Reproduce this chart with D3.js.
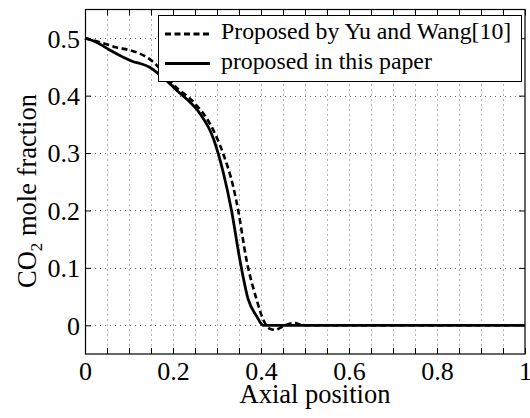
<!DOCTYPE html>
<html>
<head>
<meta charset="utf-8">
<script src="https://cdn.jsdelivr.net/npm/d3@7"></script>
<style>
body { margin: 0; background: #fff; }
svg { display: block; }
svg text { font-family: "Liberation Serif", "Times New Roman", serif; fill: #000; }
</style>
</head>
<body>
<svg id="view" width="530" height="418"></svg>
<script>
// data
var xTicks = [0, 0.2, 0.4, 0.6, 0.8, 1];
var yTicks = [0, 0.1, 0.2, 0.3, 0.4, 0.5];
var xMinor = d3.range(0, 1.0001, 0.05);

var yuX = [0, 0.034, 0.072, 0.102, 0.133, 0.156, 0.175, 0.2, 0.25, 0.284, 0.314, 0.337, 0.348, 0.367, 0.39, 0.405, 0.42, 0.432, 0.445, 0.455, 0.467, 0.477, 0.49, 0.5, 1.0];
var yuY = [0.5, 0.493, 0.484, 0.479, 0.47, 0.458, 0.443, 0.42, 0.386, 0.351, 0.299, 0.241, 0.201, 0.114, 0.045, 0.01, -0.006, -0.008, -0.004, 0, 0.003, 0.004, 0.001, 0, 0];

var paperX = [0, 0.026, 0.057, 0.087, 0.11, 0.125, 0.148, 0.167, 0.19, 0.21, 0.231, 0.261, 0.292, 0.314, 0.333, 0.352, 0.371, 0.39, 0.405, 0.5, 1.0];
var paperY = [0.5, 0.493, 0.479, 0.467, 0.459, 0.456, 0.449, 0.438, 0.423, 0.408, 0.394, 0.369, 0.325, 0.267, 0.2, 0.114, 0.045, 0.016, 0, 0, 0];

var svg = d3.select('svg#view');
var L = 85, R = 525, T = 9.5, B = 354;

var x = d3.scaleLinear().domain([0, 1]).range([L, R]);
var y = d3.scaleLinear().domain([-0.05, 0.55]).range([B, T]);

// dotted grid
var grid = svg.append('g').attr('stroke', '#666').attr('stroke-width', 1).attr('stroke-dasharray', '1,4');
grid.selectAll('line.v').data(xMinor.filter(function(d){ return d > 0.001 && d < 0.999; }))
	.enter().append('line')
	.attr('x1', function(d){ return Math.round(x(d)) + 0.5; })
	.attr('x2', function(d){ return Math.round(x(d)) + 0.5; })
	.attr('y1', T).attr('y2', B);
grid.selectAll('line.h').data(yTicks)
	.enter().append('line')
	.attr('y1', function(d){ return Math.round(y(d)) + 0.5; })
	.attr('y2', function(d){ return Math.round(y(d)) + 0.5; })
	.attr('x1', L).attr('x2', R);

// axes, ticks pointing inward
var gB = svg.append('g').attr('transform', 'translate(0,' + B + ')')
	.call(d3.axisBottom(x).tickValues(xMinor).tickSize(-6).tickFormat(function(d){
		var r = Math.round(d * 100) / 100;
		return xTicks.indexOf(r) >= 0 ? d3.format('')(r) : '';
	}));
var gT = svg.append('g').attr('transform', 'translate(0,' + T + ')')
	.call(d3.axisTop(x).tickValues(xMinor).tickSize(-6).tickFormat(''));
var gL = svg.append('g').attr('transform', 'translate(' + L + ',0)')
	.call(d3.axisLeft(y).tickValues(yTicks).tickSize(-6).tickFormat(d3.format('')).tickPadding(5));
var gR = svg.append('g').attr('transform', 'translate(' + R + ',0)')
	.call(d3.axisRight(y).tickValues(yTicks).tickSize(-6).tickFormat(''));

[gB, gT, gL, gR].forEach(function(g) {
	g.attr('font-family', null).attr('font-size', null);
	g.select('.domain').remove();
	g.selectAll('line').attr('stroke', '#000');
	g.selectAll('text').style('font-size', '26px').attr('fill', '#000');
});
gB.selectAll('text').attr('dy', null).attr('y', 26);
gL.selectAll('text').attr('dy', '0.34em');

svg.append('rect').attr('x', L + 0.5).attr('y', T).attr('width', R - L - 0.5).attr('height', B - T)
	.attr('fill', 'none').attr('stroke', '#000').attr('stroke-width', 1.2);

// curves
var line = d3.line().x(function(d){ return x(d[0]); }).y(function(d){ return y(d[1]); }).curve(d3.curveMonotoneX);
var plot = svg.append('g');
plot.append('path').datum(d3.zip(yuX, yuY)).attr('d', line)
	.attr('fill', 'none').attr('stroke', '#000').attr('stroke-width', 2.6).attr('stroke-dasharray', '6,3.5');
plot.append('path').datum(d3.zip(paperX, paperY)).attr('d', line)
	.attr('fill', 'none').attr('stroke', '#000').attr('stroke-width', 2.8);

// legend
var lg = svg.append('g');
lg.append('rect').attr('x', 158.5).attr('y', 15.5).attr('width', 363).attr('height', 66)
	.attr('fill', '#fff').attr('stroke', '#000').attr('stroke-width', 1);
var entries = [
	{ label: 'Proposed by Yu and Wang[10]', dash: '6,3.5', yy: 34 },
	{ label: 'proposed in this paper', dash: null, yy: 63.5 }
];
entries.forEach(function(e) {
	lg.append('line').attr('x1', 165).attr('x2', 210).attr('y1', e.yy).attr('y2', e.yy)
		.attr('stroke', '#000').attr('stroke-width', 2.8).attr('stroke-dasharray', e.dash);
	lg.append('text').attr('x', 221).attr('y', e.yy + 5).style('font-size', '23.8px').text(e.label);
});

// axis titles
svg.append('text').attr('x', 315).attr('y', 403).attr('text-anchor', 'middle').style('font-size', '26.5px').text('Axial position');
var yl = svg.append('text').attr('transform', 'translate(36,191) rotate(-90)').attr('text-anchor', 'middle').style('font-size', '26.5px');
yl.append('tspan').text('CO');
yl.append('tspan').style('font-size', '17px').attr('dy', 6).text('2');
yl.append('tspan').attr('dy', -6).text(' mole fraction');
</script>
</body>
</html>
